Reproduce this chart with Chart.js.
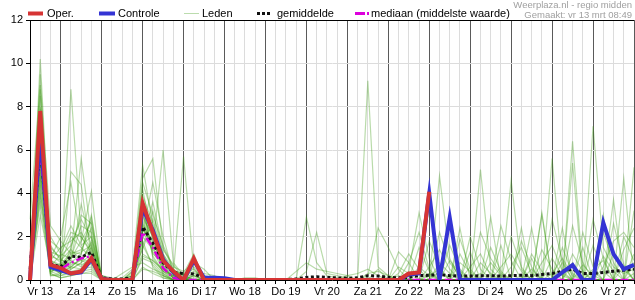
<!DOCTYPE html>
<html>
<head>
<meta charset="utf-8">
<script src="https://cdn.jsdelivr.net/npm/chart.js@4/dist/chart.umd.min.js"></script>
<style>
  html, body { margin: 0; padding: 0; background: #fff; }
  #wrap { width: 635px; height: 300px; }
</style>
</head>
<body>
<div id="wrap"><canvas id="ensChart" width="635" height="300"></canvas></div>
<script>
// 6-hourly steps from Vr 13 06:00 up to Za 28 00:00
const dayLabels = ['Vr 13', 'Za 14', 'Zo 15', 'Ma 16', 'Di 17', 'Wo 18', 'Do 19', 'Vr 20',
                   'Za 21', 'Zo 22', 'Ma 23', 'Di 24', 'Wo 25', 'Do 26', 'Vr 27'];
const yTicks = [0, 2, 4, 6, 8, 10, 12];

const oper = [0, 7.8, 0.7, 0.55, 0.3, 0.4, 1.0, 0.05, 0, 0,
              0, 3.55, 2.2, 0.9, 0.4, 0, 1.0, 0, 0, 0,
              0, 0, 0, 0, 0, 0, 0, 0, 0, 0,
              0, 0, 0, 0, 0, 0, 0, 0.3, 0.35, 4.07];

const controle = [0, 6.8, 0.6, 0.45, 0.3, 0.35, 0.95, 0.05, 0, 0,
                  0, 3.3, 2.3, 0.95, 0.35, 0, 0.9, 0.1, 0.1, 0.08,
                  0, 0, 0, 0, 0, 0, 0, 0, 0, 0,
                  0, 0, 0, 0, 0, 0, 0, 0.25, 0.3, 4.0,
                  0, 2.88, 0, 0, 0, 0, 0, 0, 0, 0,
                  0, 0, 0.35, 0.69, 0, 0, 2.65, 1.2, 0.5, 0.7];

const gemiddelde = [0.5, 6.2, 0.75, 0.6, 1.1, 1.05, 1.28, 0.1, 0.05, 0.05,
                    0.1, 2.45, 1.7, 0.8, 0.35, 0.3, 0.28, 0.1, 0.05, 0.03,
                    0.02, 0.02, 0.02, 0.02, 0.02, 0.02, 0.05, 0.12, 0.15, 0.12,
                    0.1, 0.08, 0.1, 0.2, 0.18, 0.12, 0.1, 0.12, 0.2, 0.22,
                    0.25, 0.2, 0.18, 0.18, 0.2, 0.2, 0.18, 0.2, 0.22, 0.2,
                    0.25, 0.3, 0.4, 0.5, 0.3, 0.3, 0.35, 0.4, 0.45, 0.5];

const mediaan = [0.2, 6.0, 0.6, 0.5, 0.8, 1.0, 1.1, 0, 0, 0,
                 0, 2.2, 1.5, 0.55, 0.1, 0, 0, 0, 0, 0,
                 0, 0, 0, 0, 0, 0, 0, 0, 0, 0,
                 0, 0, 0, 0, 0, 0, 0, 0, 0, 0,
                 0, 0, 0, 0, 0, 0, 0, 0, 0, 0,
                 0, 0, 0, 0, 0, 0, 0, 0, 0, 0];

// ensemble members (Leden)
const leden = [
  [0,10.2,1.2,0.8,0.6,1.0,1.5,0.1,0,0, 0,3.0,2.0,1.0,0.3,0,0,0,0,0, 0,0,0,0,0,0,0,2.9,0.8,0.2, 0.1,0,0,0.3,0.4,0.2,0,0,0,0.2, 0.5,0,0,0,0.8,0.3,0,4.6,0.5,0, 0,0.3,1.0,0.2,0,7.1,1.5,0.6,0.3,0.5],
  [0.5,9.5,0.8,0.5,8.8,2.0,1.2,0,0,0, 0.2,4.7,5.6,1.5,0.5,0,0.2,0,0,0, 0,0,0,0,0,0,0,0,0,0, 0,0,0,9.2,0.6,0.2,0,0,0,0, 0,0,0.4,0,0,0,0,0,0,0.5, 0,0,0.8,0,0,0.4,0,0,0,0.3],
  [2.8,9.0,2.5,1.8,1.2,5.6,2.0,0.2,0,0, 0,2.5,1.5,6.0,0.8,0.2,0,0,0,0, 0,0,0,0,0,0,0,0.4,2.2,0.3, 0.2,0.1,0,0.1,0,0,0,0,0,0, 4.8,1.0,0,0,0,0,0,0,0,0, 0,0,0,6.4,0.3,0,0,0,0,0],
  [0,8.8,0.5,0.3,5.0,4.4,1.0,0,0,0.1, 0.5,5.3,2.5,0.5,0.2,0,0,0,0,0, 0,0,0,0,0,0,0,0,0,0, 0,0,0,0,0,0,0,0.4,3.1,1.0, 0,0,0,0,5.1,0.5,0,0,0,0, 0,5.6,0.3,0,0,0,0,0,4.7,0],
  [1.5,8.5,1.0,2.0,4.5,1.8,4.1,0.1,0,0, 0,1.5,3.2,1.2,0.3,5.7,0.5,0,0,0, 0,0,0,0,0,0,0,0,0,0, 0,0,0,0,0,0,0.2,0,0,0, 0,2.9,0,0,0,0,0,0,0,0, 3.0,0,0,0,0,0,0,0,0,5.2],
  [0,8.0,0.4,0.6,0.8,1.2,3.0,0,0,0, 0,3.8,1.0,0.4,0,0,0,0,0,0, 0,0,0,0,0,0,0.4,0.8,0.5,0.4, 0.3,0.2,0,0.2,2.4,1.5,0.5,0,0,0, 0,0,2.4,0,0,2.9,0,0,2.4,0, 0,0,0,0,0,0,0,3.7,0,0],
  [0.3,7.6,0.6,0.3,1.5,3.0,2.6,0,0,0, 0,2.2,4.5,2.0,0.3,0,0.6,0.1,0,0, 0,0,0,0,0,0,0,0,0,0, 0,0,0,0,0.5,0,1.3,0.8,0,0, 0,0,0,1.3,0,0,0,0,0,2.4, 0,0,0,5.4,0,0,0,0,0,0],
  [0,7.2,1.5,1.0,0.5,0.8,1.8,0,0,0, 0,4.2,1.8,0.6,0.1,0.3,1.2,0,0,0, 0,0,0,0,0,0,0,0,0,0, 0,0,0,0,0,0,0,0,0,0, 0,0,0,0,0,0,1.6,0,0,0, 0,0,2.4,0,0,0,3.0,0,0,0],
  [0,7.0,0.3,0.8,2.0,1.5,1.0,0,0,0, 0,1.0,0.8,0.3,0,0,0,0,0,0, 0,0,0,0,0,0,0,0,0,0, 0,0,0,0,0,0,0,0,0,0, 0,0,0,0,0,0,0,0,0,0, 3.1,0,0,0,1.5,0,0,0,0,0.8],
  [0.8,6.8,2.0,1.2,1.0,2.5,2.2,0.1,0,0, 0.3,2.8,1.2,0.8,0.4,0.2,0,0,0,0, 0,0,0,0,0,0,0,0,0,0, 0,0,0,0,0,0,0.3,1.2,0.5,0, 0.8,0.3,0,0,0,0,0.6,1.2,0.4,0, 0,0,0,0,0,0,0.6,1.8,2.2,1.5],
  [0,6.5,0.7,0.4,0.6,1.0,0.8,0,0,0, 0,3.5,2.2,0.2,0,0,0,0,0,0, 0,0,0,0,0,0,0,0,0,0, 0,0.2,0.3,0.5,0.2,0,0,0,0,0.6, 1.4,0.5,0,0,0,0,0,0,0,0, 0.8,1.6,0.4,0,0,0.5,0.9,0,0,0],
  [0,6.2,0.9,1.5,1.8,2.2,1.4,0,0,0, 0,1.8,0.6,0.1,0,0,0,0,0,0, 0,0,0,0,0,0,0,0,0,0, 0,0,0,0,0,0,0,0,1.5,0.4, 0,0,0,0.6,1.2,0.2,0,0,1.8,0.6, 0,0,0,2.5,0.8,0,0,0,1.4,2.4],
  [0,6.0,0.2,0.2,0.3,0.4,0.5,0,0,0.3, 0.6,0.8,0.5,0.3,0,0,0,0,0,0, 0,0,0,0,0,0,0,0,0,0, 0,0,0,0,0,0,0,0,0,0, 2.2,0.8,0.2,0,0,0,2.5,0.9,0,0, 0,1.0,0.2,0,0,0,0,2.6,0.7,0],
  [0.2,5.8,0.5,0.6,1.2,1.4,2.4,0.2,0.1,0, 0,2.0,1.4,0.9,0.3,0.1,0.3,0.3,0.2,0, 0,0.1,0.1,0,0,0,0,0,0,0, 0,0,0,0,0,0,0.6,0.3,0,0, 0,0,1.2,0.3,0,0,0,0.6,1.5,0.3, 0,0,0,0,0,2.8,1.0,0,0,1.2],
  [0,5.5,1.1,0.9,0.9,0.6,1.1,0,0,0, 0.2,1.2,0.9,0.5,0.2,0,0,0,0,0, 0,0,0,0,0,0,0,0,0,0, 0,0,0,0,0,0,0,0,0,1.8, 0.6,0,0,0,2.2,1.0,0.3,0,0,0, 1.4,0.5,0,0,2.2,0.6,0,0,0,0],
  [0,5.2,0.3,0.1,0.2,0.3,0.4,0,0,0, 0,2.6,1.7,0.7,0.1,0,0,0,0,0, 0,0,0,0,0,0,0,0,0,0, 0,0,0,0,0,0,0,0,0,0, 0,1.6,0.5,0,0,1.5,0.4,0,0,0, 0,0,1.5,0.3,0,0,0,0,2.0,0.9],
  [0,5.0,0.6,0.4,0.7,0.9,0.7,0,0,0, 0,4.5,3.0,1.6,0.6,0.4,0.8,0.5,0,0.1, 0,0,0,0,0,0,0,0,0,0, 0,0,0,0,0,0,0,0.8,2.2,0.5, 0,0,0,2.0,0.5,0,0,0,0,1.2, 0.4,0,0,0,0,0,2.2,0.8,0,0],
  [0.6,4.8,1.8,1.4,2.5,1.6,2.0,0.1,0,0, 0.4,1.4,2.8,1.2,0.5,0.2,0.4,0.2,0.1,0, 0,0,0,0,0,0,0,0,0,0, 0,0,0,0,0,0,0,0,0,0, 0.4,0,0,0,0.3,0,0,2.0,0.6,0, 0,0,0,1.2,0.4,0,0,0,0,3.2],
  [0,4.5,0.4,0.2,0.4,0.5,0.6,0,0,0, 0,0.6,0.3,0.1,0,0,0,0,0,0, 0,0,0,0,0,0,0,0,0,0, 0,0,0,0,0,0,0,0,0,0, 0,0,0.8,0.4,0,0,0,0,0,0, 0,2.8,0.9,0,0,0,0,1.2,0.5,0],
  [0,4.2,0.2,0.3,0.5,0.8,1.2,0,0,0, 0,3.2,1.1,0.4,0.2,0,0.2,0,0,0, 0,0,0,0,0,0,0,0,0,0, 0,0,0,0,0,0,0,0,0,0, 0,0,0,0,0,0.8,0.2,0,0,1.0, 0,0,0,0,0,1.6,0.4,0,0,0],
  [0,4.0,0.8,0.5,1.1,1.3,1.6,0,0,0, 0,2.4,1.5,0.6,0.1,0,0,0,0,0, 0,0,0,0,0,0,0,0,0,0, 0,0,0,0,0,0,0,0,0,0.3, 0,0,0,0,0,0,0,0,0.2,0, 0,0,0,0.8,0,0,0,0,0.6,0],
  [0,3.8,0.5,0.7,0.8,0.7,0.9,0,0,0, 0.1,1.6,0.7,0.2,0,0,0,0,0,0, 0,0,0,0,0,0,0,0,0,0, 0,0,0,0,0,0,0,0,0,0, 0,0,0,0,0,0,0,0,0,0, 0,0,0,0,0,0,0,0,0,0],
  [0.3,3.5,0.3,0.1,0.2,0.3,0.3,0,0,0, 0,0.5,0.4,0.2,0,0,0,0,0,0, 0,0,0,0,0,0,0,0,0,0, 0,0,0,0,0,0,0,0,0,0, 0,0,0,0,0,0,0,0,0,0, 0,0,0,0,0,0,0,0,0,0],
  [0,3.0,0.6,0.3,0.6,0.5,1.0,0,0,0, 0,2.1,2.4,1.0,0.4,0.3,0.5,0.1,0,0, 0,0,0,0,0,0,0,0,0,0, 0,0,0,0,0,0,0,0,0,0, 0,0,0,0,0,0,0,0,0,0, 0,0,0,0,0,0,0,0,0,0],
  [0,6.6,1.3,1.1,1.6,2.8,1.9,0.1,0,0, 0,2.9,2.0,0.7,0.2,0,0.3,0,0,0, 0,0,0,0,0,0,0,0,0,0, 0,0,0,0,0,0,0,0,0.6,0.2, 0,0.9,0.3,0,0,0,0,0,0,0, 0,0,0,0,0,0,1.1,0.4,0,0],
  [0.4,7.9,0.9,0.7,1.3,1.2,2.9,0,0,0, 0.2,3.9,2.6,1.1,0.3,0,0.2,0,0,0, 0,0,0,0,0,0,0,0,0,0, 0,0,0,0,0,0,0,0,0,0, 0,0,0,0,0,0,0,0,0,0, 0,0,0,0,0.7,0.2,0,0,0,0],
  [0,5.6,0.6,1.2,2.2,2.0,1.3,0,0,0, 0,1.9,3.6,1.4,0.7,0.1,0,0,0,0, 0,0,0,0,0,0,0,0,0,0, 0,0,0,0,0,0,0,0,0,0, 0,0,0,0,0,0,0,0,0,0, 0,0,0,0,0,0,0,0,0,0],
  [0,4.6,0.9,0.6,1.0,1.8,2.7,0,0,0, 0.4,3.4,1.3,0.5,0.1,0,0,0,0,0, 0,0,0,0,0,0,0,0,0,0, 0,0,0,0,0,0,0,0,0,0, 0,0,1.9,0.5,0,0,0,0,0,0, 0,0,0,0,0,0,0,0,0,0],
  [0.2,6.9,1.6,0.9,1.4,0.9,1.7,0,0,0, 0,2.3,1.9,0.9,0.3,0,0.1,0,0,0, 0,0,0,0,0,0,0,0,0,0, 0,0,0,0,0,0,0,0,0,0, 0,0,0,0,0,0,0,0,0,0, 0,0,0,0,0,0,0,0,0,0],
  [0,5.3,0.4,0.6,0.9,3.5,1.5,0,0,0, 0,1.1,0.9,0.4,0.1,0,0,0,0,0, 0,0,0,0,0,0,0,0,0,0, 0,0,0,0,0,0,0,0,0,0, 0,0,0,0,0,0,0,0,0,0, 0,0,0,0,0,0,0,0,0,0]
];

const steps = gemiddelde.map((v, i) => i);

const RED = 'rgb(214, 52, 52)';
const BLUE = 'rgb(52, 52, 212)';
const GREEN = 'rgba(60, 155, 20, 0.36)';
const MAGENTA = 'rgb(220, 0, 220)';

Chart.defaults.font.family = '"Liberation Sans", Arial, sans-serif';
Chart.defaults.font.size = 11;
Chart.defaults.color = '#000';

const legendItems = [
  { text: 'Oper.', x: 28, len: 15, gap: 19, color: RED, width: 4, dash: [] },
  { text: 'Controle', x: 99, len: 16, gap: 19, color: BLUE, width: 4, dash: [] },
  { text: 'Leden', x: 184, len: 15, gap: 18, color: 'rgba(60, 155, 20, 0.35)', width: 1, dash: [] },
  { text: 'gemiddelde', x: 257, len: 15, gap: 20, color: '#111', width: 3, dash: [3, 2] },
  { text: 'mediaan (middelste waarde)', x: 355, len: 14, gap: 16, color: MAGENTA, width: 3, dash: [10, 2, 2, 2] }
];

// legend strip, watermark and top frame line
const decorations = {
  id: 'decorations',
  afterDraw(chart) {
    const { ctx, chartArea } = chart;
    ctx.save();

    ctx.strokeStyle = '#000';
    ctx.lineWidth = 1;
    ctx.beginPath();
    ctx.moveTo(chartArea.left, chartArea.top + 0.5);
    ctx.lineTo(chartArea.right, chartArea.top + 0.5);
    ctx.stroke();

    ctx.font = '11px "Liberation Sans", Arial, sans-serif';
    ctx.textBaseline = 'middle';
    ctx.textAlign = 'left';
    const y = 13.5;
    legendItems.forEach(item => {
      ctx.strokeStyle = item.color;
      ctx.lineWidth = item.width;
      ctx.setLineDash(item.dash);
      ctx.beginPath();
      ctx.moveTo(item.x, y);
      ctx.lineTo(item.x + item.len, y);
      ctx.stroke();
      ctx.setLineDash([]);
      ctx.fillStyle = '#000';
      ctx.fillText(item.text, item.x + item.gap, y + 0.5);
    });

    ctx.fillStyle = '#a0a0a0';
    ctx.font = '9.5px "Liberation Sans", Arial, sans-serif';
    ctx.textAlign = 'right';
    ctx.fillText('Weerplaza.nl - regio midden', 632, 5);
    ctx.fillText('Gemaakt: vr 13 mrt 08:49', 632, 15);
    ctx.restore();
  }
};

const memberSets = leden.map(m => ({
  label: 'Leden',
  data: m,
  borderColor: GREEN,
  borderWidth: 1.2,
  pointRadius: 0,
  order: 4
}));

new Chart(document.getElementById('ensChart').getContext('2d'), {
  type: 'line',
  data: {
    labels: steps,
    datasets: [
      { label: 'Oper.', data: oper, borderColor: RED, borderWidth: 4, pointRadius: 0, order: 0 },
      { label: 'Controle', data: controle, borderColor: BLUE, borderWidth: 4, pointRadius: 0, order: 1 },
      { label: 'mediaan (middelste waarde)', data: mediaan, borderColor: MAGENTA, borderWidth: 2.5,
        borderDash: [8, 3, 2, 3], pointRadius: 0, order: 2 },
      { label: 'gemiddelde', data: gemiddelde, borderColor: '#111', borderWidth: 3,
        borderDash: [3, 2.5], pointRadius: 0, order: 3 },
      ...memberSets
    ]
  },
  options: {
    responsive: false,
    animation: false,
    devicePixelRatio: 1,
    layout: { padding: { top: 20, right: 0, left: 0, bottom: 0 } },
    elements: { line: { tension: 0 } },
    plugins: { legend: { display: false }, tooltip: { enabled: false } },
    scales: {
      x: {
        type: 'category',
        offset: false,
        border: { color: '#000', width: 1 },
        grid: {
          color: c => (c.tick && (c.tick.value - 3) % 4 === 0) ? '#5a5a5a' : '#dcdcdc',
          tickColor: '#000',
          tickLength: 4
        },
        ticks: {
          autoSkip: false,
          maxRotation: 0,
          minRotation: 0,
          padding: 1,
          callback: (v, i) => (i - 1) % 4 === 0 ? dayLabels[(i - 1) / 4] : ''
        },
        afterFit: s => { s.height = 20; }
      },
      y: {
        min: 0,
        max: 12,
        border: { color: '#000', width: 1 },
        grid: { color: '#dcdcdc', tickColor: '#000', tickLength: 4 },
        ticks: {
          stepSize: 2,
          padding: 3,
          callback: v => yTicks.includes(v) ? v : ''
        },
        afterFit: s => { s.width = 30; }
      }
    }
  },
  plugins: [decorations]
});
</script>
</body>
</html>
